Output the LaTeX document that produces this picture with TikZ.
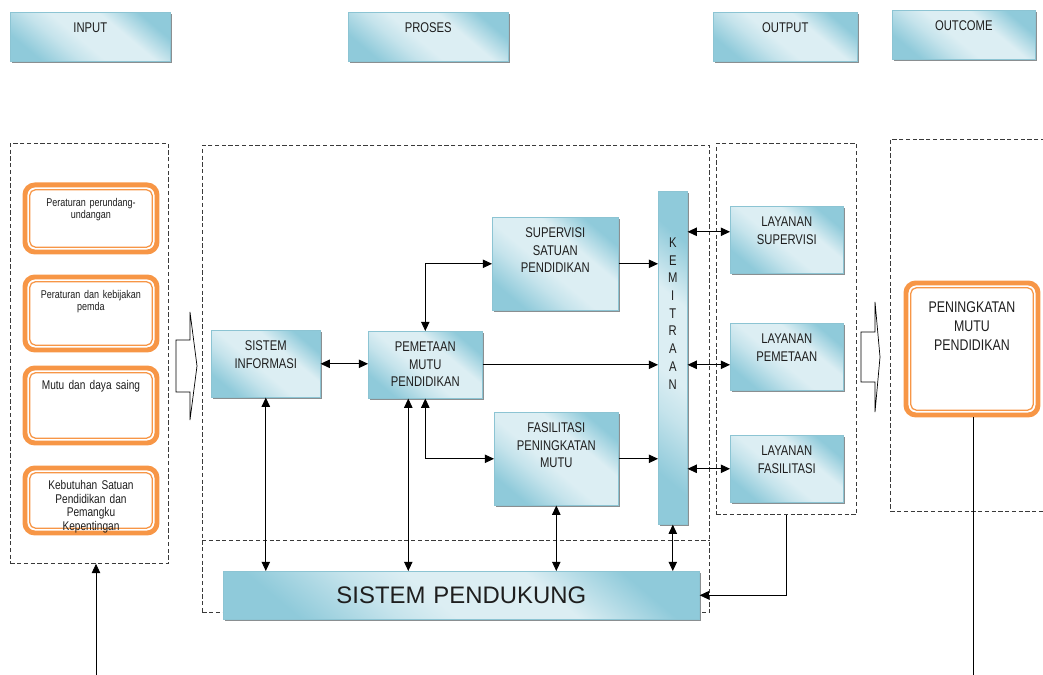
\documentclass[tikz,border=0pt]{standalone}
\usepackage{fontspec}
\setmainfont{Liberation Sans}
\newfontfamily\narrow{Liberation Sans}[FakeStretch=0.8,WordSpace=0.8]
\usetikzlibrary{arrows.meta,shadows}
\definecolor{bdark}{HTML}{8FCADA}
\definecolor{blight}{HTML}{DCEEF3}
\definecolor{bedge}{HTML}{8CC4D3}
\definecolor{shade}{HTML}{8A8F91}
\definecolor{orng}{HTML}{F79646}
\definecolor{ink}{HTML}{1E1E1E}
\definecolor{frameline}{HTML}{3A3A3A}
\pgfdeclareverticalshading{glass}{100bp}{color(0bp)=(bdark); color(25bp)=(bdark); color(38bp)=(blight!70!bdark);
  color(46bp)=(blight); color(62bp)=(blight); color(75bp)=(bdark); color(100bp)=(bdark)}

\begin{document}
\begin{tikzpicture}[x=0.025cm,y=-0.025cm,
  box/.style={draw=bedge,line width=0.4pt,shading=glass,shading angle=-40,
    drop shadow={shadow xshift=0.05cm,shadow yshift=-0.05cm,fill=shade,opacity=1},
    anchor=north west,inner sep=0pt,align=center,text=ink,text height=5mm,
    font=\narrow\fontsize{10}{12.6}\selectfont},
  hdr/.style={box,text depth=7.25mm},
  blu/.style={box,text depth=11.75mm},
  blutall/.style={box,text depth=18.25mm},
  obox/.style={draw=orng,line width=3.5pt,rounded corners=7pt,fill=white,anchor=north west,inner sep=0pt,
    align=center,text=ink,text height=5.4mm,font=\narrow\fontsize{8}{8.6}\selectfont,
    path picture={\draw[orng,line width=0.9pt,rounded corners=4pt]
      ([shift={(0.12cm,-0.12cm)}]path picture bounding box.north west) rectangle
      ([shift={(-0.12cm,0.12cm)}]path picture bounding box.south east);}},
  grp/.style={draw=frameline,dash pattern=on 3pt off 1.8pt,line width=0.5pt,anchor=north west,inner sep=0pt},
  dashline/.style={draw=frameline,dash pattern=on 3pt off 1.8pt,line width=0.5pt},
  arr/.style={-{Triangle[length=2.3mm,width=2.1mm]},line width=0.6pt},
  dbl/.style={{Triangle[length=2.3mm,width=2.1mm]}-{Triangle[length=2.3mm,width=2.1mm]},line width=0.6pt},
  fat/.style={draw=black,line width=0.5pt,fill=white},
]
\useasboundingbox (0,0) rectangle (1043,675);

% column heads
\node[hdr,text width=4cm] (hin) at (10,12) {INPUT};
\node[hdr,text width=4cm] (hpr) at (348,12) {PROSES};
\node[hdr,text width=3.6cm] (hout) at (713,12) {OUTPUT};
\node[hdr,text width=3.575cm] (hoc) at (892,10) {OUTCOME};

% dashed groups
\node[grp,minimum width=3.95cm,minimum height=10.5cm] (inframe) at (10,143) {};
\node[grp,minimum width=12.675cm,minimum height=11.675cm] (prframe) at (202,145) {};
\node[grp,minimum width=3.5cm,minimum height=9.275cm] (outframe) at (716,143) {};
\node[grp,minimum width=4.2cm,minimum height=9.3cm] (ocframe) at (890,139) {};
\coordinate (sep) at (0,540);
\draw[dashline] (prframe.west |- sep) -- (prframe.east |- sep);

% input
\node[obox,text width=3.3cm,text depth=11.35mm] (in1) at (22.5,182.5) {Peraturan perundang-\\undangan};
\node[obox,text width=3.3cm,text depth=12.85mm] (in2) at (22.5,274.5) {Peraturan dan kebijakan\\pemda};
\node[obox,text width=3.3cm,text depth=13.35mm,font=\narrow\fontsize{9}{9.7}\selectfont] (in3) at (22.5,365.5) {Mutu dan daya saing};
\node[obox,text width=3.3cm,text depth=10.85mm,font=\narrow\fontsize{9}{9.7}\selectfont] (in4) at (22.5,465.5) {Kebutuhan Satuan\\Pendidikan dan\\Pemangku\\Kepentingan};

% proses
\node[blu,text width=2.725cm] (si) at (211,330) {SISTEM\\INFORMASI};
\node[blu,text width=2.85cm] (pem) at (368,331) {PEMETAAN\\MUTU\\PENDIDIKAN};
\node[blutall,text width=3.15cm] (sup) at (492,217) {SUPERVISI\\SATUAN\\PENDIDIKAN};
\node[blutall,text width=3.1cm] (fas) at (494,412) {FASILITASI\\PENINGKATAN\\MUTU};
\node[box,text width=0.725cm,text height=14mm,text depth=69.25mm] (kem) at (658,191) {K\\E\\M\\I\\T\\R\\A\\A\\N};
\node[box,text width=11.9cm,text height=8.15mm,text depth=3.85mm,font=\fontsize{17}{20}\selectfont] (sp) at (223,571) {SISTEM PENDUKUNG};

% output
\node[blu,text width=2.825cm] (lsup) at (730,206) {LAYANAN\\SUPERVISI};
\node[blu,text width=2.825cm] (lpem) at (730,323) {LAYANAN\\PEMETAAN};
\node[blu,text width=2.825cm] (lfas) at (730,435) {LAYANAN\\FASILITASI};

% outcome
\node[obox,text width=3.3cm,text height=7.4mm,text depth=25.6mm,font=\narrow\fontsize{11}{13.5}\selectfont] (ocbox) at (903.5,280.5) {PENINGKATAN\\MUTU\\PENDIDIKAN};

% block arrows
\draw[fat] (176,340) -- (190,340) -- (190,312) -- (197,366) -- (190,420) -- (190,392) -- (176,392) -- cycle;
\draw[fat] (861,332) -- (875,332) -- (875,302) -- (880,357) -- (875,412) -- (875,382) -- (861,382) -- cycle;

% links inside proses
\draw[dbl] (si.east) -- (si.east -| pem.west);
\draw[dbl] (pem.north) |- (sup.west);
\draw[dbl] (pem.south) |- (fas.west);
\draw[arr] (sup.east) -- (sup.east -| kem.west);
\draw[arr] (pem.east) -- (pem.east -| kem.west);
\draw[arr] (fas.east) -- (fas.east -| kem.west);

% kemitraan to layanan
\draw[dbl] ([yshift=2mm]lsup.west -| kem.east) -- ([yshift=2mm]lsup.west);
\draw[dbl] (pem.east -| kem.east) -- (pem.east -| lpem.west);
\draw[dbl] (lfas.west -| kem.east) -- (lfas.west);

% sistem pendukung
\draw[dbl] (si.south) -- (si.south |- sp.north);
\draw[dbl] ([xshift=-4.25mm]pem.south) -- ([xshift=-4.25mm]pem.south |- sp.north);
\draw[dbl] (fas.south) -- (fas.south |- sp.north);
\draw[dbl] (kem.south) -- (kem.south |- sp.north);
\draw[arr] (outframe.south) |- (sp.east);

% in and out of the page
\coordinate (inbot) at (96,675);
\draw[arr] (inbot) -- (inbot |- inframe.south);
\coordinate (ocbot) at (973,675);
\draw[line width=0.6pt] (ocbot |- ocbox.south) -- (ocbot);
\end{tikzpicture}
\end{document}
